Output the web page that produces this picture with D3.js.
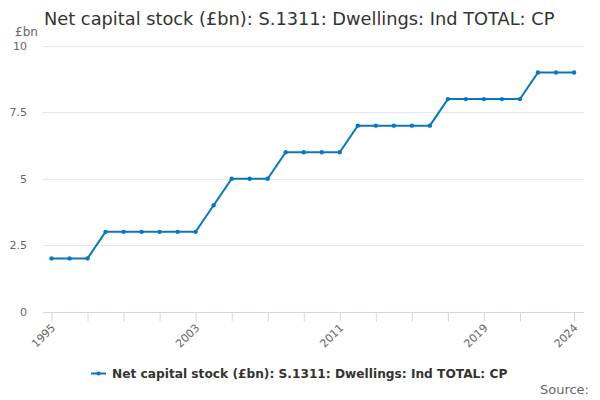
<!DOCTYPE html>
<html><head><meta charset="utf-8">
<script src="https://cdn.jsdelivr.net/npm/d3@7"></script>
<style>body{margin:0;background:#fff}svg{display:block;font-family:"DejaVu Sans",sans-serif}</style>
</head><body><svg id="c" width="600" height="400"></svg>
<script>
const years = [1995,1996,1997,1998,1999,2000,2001,2002,2003,2004,2005,2006,2007,2008,2009,2010,2011,2012,2013,2014,2015,2016,2017,2018,2019,2020,2021,2022,2023,2024];
const values = [2,2,2,3,3,3,3,3,3,4,5,5,5,6,6,6,6,7,7,7,7,7,8,8,8,8,8,9,9,9];
const yTicks = [0,2.5,5,7.5,10];
const xTickYears = [1995,1997,1999,2001,2003,2005,2007,2009,2011,2013,2015,2017,2019,2021,2024];
const xLabelYears = [1995,2003,2011,2019,2024];
const seriesName = "Net capital stock (£bn): S.1311: Dwellings: Ind TOTAL: CP";
const title = "Net capital stock (£bn): S.1311: Dwellings: Ind TOTAL: CP";
const color = "#0a77bd";

const svg = d3.select("#c");
const x = d3.scaleLinear().domain([1995,2024]).range([51.5,574]);
const y = d3.scaleLinear().domain([0,10]).range([311.5,46]);
const left = 43, right = 584;

svg.append("text").attr("x",44).attr("y",25).attr("font-size",17.8).attr("fill","#333").text(title);
svg.append("text").attr("x",15).attr("y",36).attr("font-size",12).attr("fill","#666").text("£bn");

// grid
svg.append("g").selectAll("line").data(yTicks.filter(d=>d>0)).join("line")
  .attr("x1",left).attr("x2",right).attr("y1",d=>Math.round(y(d))+0.5).attr("y2",d=>Math.round(y(d))+0.5)
  .attr("stroke","#e6e6e6").attr("stroke-width",1);
svg.append("g").selectAll("text").data(yTicks).join("text")
  .attr("x",27).attr("y",d=>y(d)+4).attr("text-anchor","end").attr("font-size",11).attr("fill","#666")
  .text(d=>d);

// x axis
const xAxis = d3.axisBottom(x).tickValues(xTickYears).tickSize(9).tickFormat(d=>xLabelYears.includes(d)?d:"");
const gx = svg.append("g").attr("transform",`translate(0,${Math.round(y(0))+0.5})`).call(xAxis);
gx.select(".domain").attr("d",`M${left},0H${right}`).attr("stroke","#ccd6eb");
gx.selectAll(".tick line").attr("stroke","#ccd6eb");
gx.selectAll(".tick text").attr("font-family","DejaVu Sans").attr("font-size",11).attr("fill","#666")
  .attr("text-anchor","end").attr("dy",null).attr("y",0)
  .attr("transform","translate(4,16) rotate(-45)");

// line
const pts = years.map((yr,i)=>[yr,values[i]]);
svg.append("path").datum(pts).attr("fill","none").attr("stroke",color).attr("stroke-width",2)
  .attr("d",d3.line().x(d=>x(d[0])).y(d=>y(d[1])));
svg.append("g").selectAll("circle").data(pts).join("circle")
  .attr("cx",d=>x(d[0])).attr("cy",d=>y(d[1])).attr("r",2.2).attr("fill",color);

// legend
const lg = svg.append("g");
lg.append("line").attr("x1",91).attr("x2",106).attr("y1",373.5).attr("y2",373.5).attr("stroke",color).attr("stroke-width",2);
lg.append("circle").attr("cx",98.5).attr("cy",373.5).attr("r",2).attr("fill",color);
lg.append("text").attr("x",112).attr("y",378).attr("font-size",12.2).attr("font-weight","bold").attr("fill","#333").text(seriesName);

svg.append("text").attr("x",589).attr("y",394).attr("text-anchor","end").attr("font-size",13).attr("fill","#666").text("Source:");
</script></body></html>
